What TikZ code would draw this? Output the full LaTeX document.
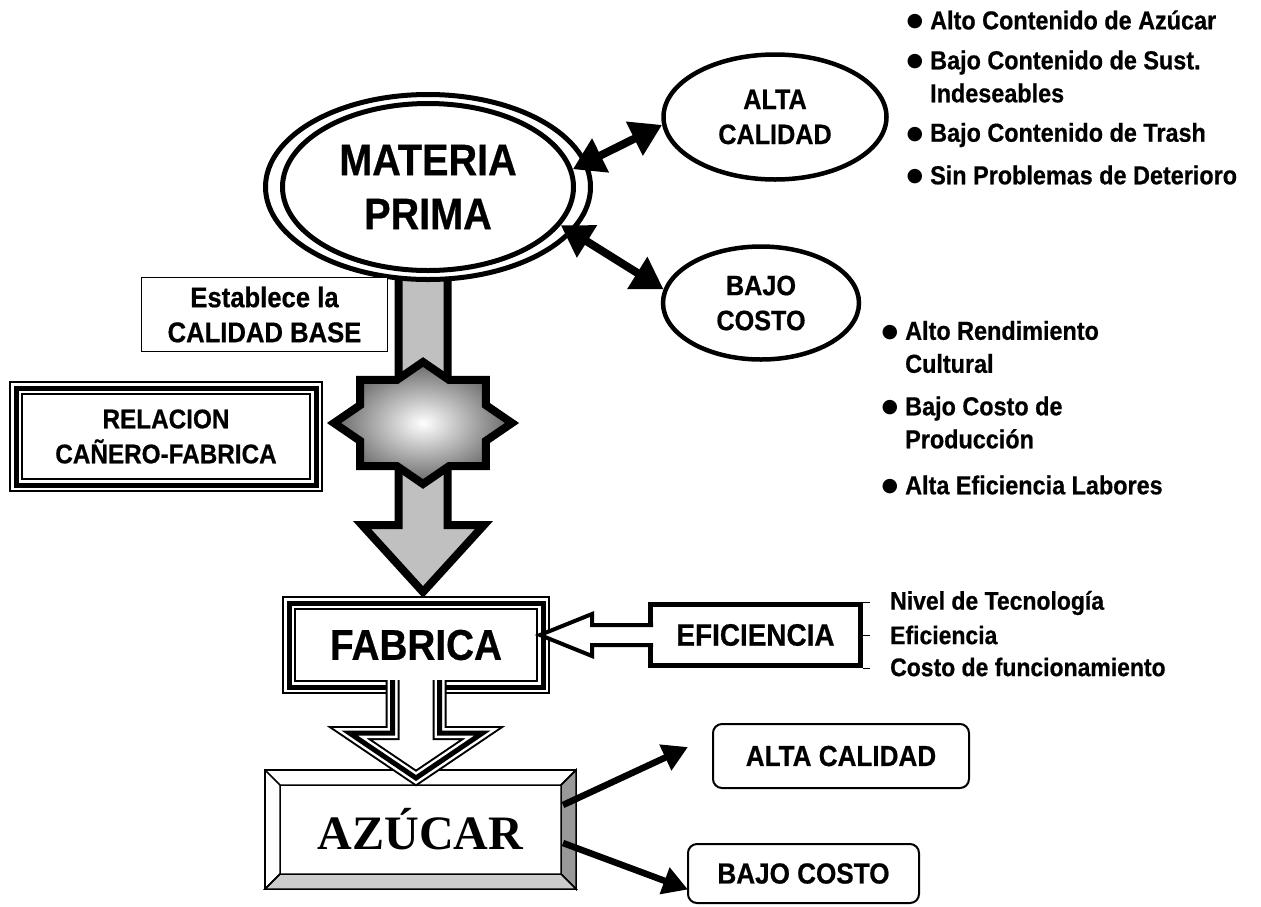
\documentclass[tikz,border=0pt]{standalone}
\usepackage{fontspec}
\setmainfont{Liberation Sans}[FakeStretch=0.9, BoldFeatures={FakeBold=0.6}]
\newfontfamily\azfont{Liberation Serif}
\newfontfamily\dotfont{DejaVu Sans}
\usetikzlibrary{shapes.geometric,arrows.meta,calc,backgrounds}
\definecolor{silver}{HTML}{C0C0C0}
\newcommand{\fsz}[2]{\fontsize{#1}{#2}\selectfont}
\newcommand{\bul}{\llap{\raisebox{2.5pt}{\dotfont\fsz{19}{19}●}\hspace{7pt}}}

\tikzset{
  bigoval/.style={ellipse, draw, line width=5pt, fill=white, inner sep=0pt},
  oval/.style={ellipse, draw, line width=4.5pt, fill=white, inner sep=0pt, align=center, font=\bfseries\fsz{28}{35}},
  tripline/.style={preaction={fill=white, draw=black, line width=14pt}, draw=white, line width=10pt, postaction={draw=black, line width=5pt}},
  tribox/.style={tripline, rectangle, outer sep=7pt, inner sep=0pt, align=center},
  effbox/.style={draw, line width=5pt, fill=white, minimum width=210pt, minimum height=61pt, font=\bfseries\fsz{31}{35}},
  rbox/.style={draw, line width=2pt, rounded corners=9pt, fill=white, font=\bfseries\fsz{29}{35}},
  bevel/.style={line width=1.5pt},
  note/.style={anchor=west, align=left, inner sep=0pt, font=\bfseries\fsz{26}{33}},
  sidenote/.style={anchor=west, inner sep=0pt, font=\bfseries\fsz{25.5}{30}},
  dblarrow/.style={{Triangle[length=31pt,width=36pt]}-{Triangle[length=31pt,width=36pt]}, line width=8pt},
  outarrow/.style={-{Triangle[length=25pt,width=27pt]}, line width=6.5pt},
  hollow/.style={draw, fill=white, line width=4pt},
  grayarrow/.style={draw, fill=silver, line width=8pt},
  starfill/.style={draw, line width=8pt, shading=radial, inner color=white, outer color=black!60}
}

\begin{document}
\begin{tikzpicture}[x=1pt, y=-1pt, font=\bfseries]
\useasboundingbox (0,0) rectangle (1261,906);

\node[bigoval, minimum width=325pt, minimum height=185pt] (mpo) at (428,187) {};
\node[bigoval, minimum width=291pt, minimum height=167pt, align=center, font=\bfseries\fsz{44}{54}] (mp) at (mpo) {MATERIA\\PRIMA};
\node[oval, minimum width=223pt, minimum height=125pt] (alta) at (775,117) {ALTA\\CALIDAD};
\node[oval, minimum width=196pt, minimum height=113pt] (bajo) at (761,303) {BAJO\\COSTO};

\node[draw, line width=1.5pt, fill=white, minimum width=246pt, minimum height=74pt, align=center, font=\bfseries\fsz{28.5}{35}] (base) at (264.5,314.5) {Establece la\\CALIDAD BASE};
\node[tribox, minimum width=300pt, minimum height=97pt, font=\bfseries\fsz{27}{35}] (rel) at (166,436.5) {RELACION\\CAÑERO-FABRICA};
\node[tribox, minimum width=254pt, minimum height=84pt, font=\bfseries\fsz{43}{50}] (fab) at (416,645) {FABRICA};
\node[effbox] (eff) at (755.5,635) {EFICIENCIA};

\node[draw, line width=1.5pt, fill=white, minimum width=311pt, minimum height=119pt, outer sep=0pt, font=\azfont\bfseries\fsz{48}{50}] (az) at (420.5,829.5) {AZÚCAR};
\node[rbox, minimum width=256pt, minimum height=64pt] (aca) at (841,756) {ALTA CALIDAD};
\node[rbox, minimum width=231pt, minimum height=59pt] (bco) at (803.5,873.5) {BAJO COSTO};

\coordinate (i1) at ($(az.north west)+(15,15)$);
\coordinate (i2) at ($(az.north east)+(-15,15)$);
\coordinate (i3) at ($(az.south east)+(-15,-15)$);
\coordinate (i4) at ($(az.south west)+(15,-15)$);
\filldraw[bevel, fill=black!40] (az.north east) -- (az.south east) -- (i3) -- (i2) -- cycle;
\filldraw[bevel, fill=black!20] (az.south west) -- (az.south east) -- (i3) -- (i4) -- cycle;
\draw[bevel] (az.north west) -- (i1) -- (i2) -- (az.north east) (i1) -- (i4) -- (az.south west);

\begin{scope}[on background layer]
  \coordinate (shafttop) at ($(mp.south)+(-5,-20)$);
  \coordinate (g0) at (shafttop |- fab.north);
  \coordinate (tipg) at ($(g0)+(0,-4)$);
  \draw[grayarrow] ($(shafttop)+(-24.5,0)$) -- ($(tipg)+(-24.5,-67)$) -- ($(tipg)+(-61,-67)$) -- (tipg) -- ($(tipg)+(61,-67)$) -- ($(tipg)+(24.5,-67)$) -- ($(shafttop)+(24.5,0)$) -- cycle;
  \coordinate (starc) at (423,423);
  \begin{scope}[shift={(starc)}]
    \draw[starfill] (89,0) \foreach \i [evaluate=\i as \r using {ifthenelse(mod(\i,2)==0,1,0.765)}] in {1,...,15} { -- ({\r*89*cos(\i*22.5)},{\r*61*sin(\i*22.5)}) } -- cycle;
  \end{scope}
\end{scope}

\draw[tripline] ([xshift=-23.5pt,yshift=14pt]fab.south) -- ++(0,53) -- ++(-43,0) -- ++(66.5,45) -- ++(66.5,-45) -- ++(-43,0) -- ++(0,-53);
\draw[hollow] ([xshift=5pt,yshift=10pt]eff.west) -- ++(-61,0) -- ++(0,-11) -- ++(-52,21) -- ++(52,21) -- ++(0,-11) -- ++(61,0);

\draw[dblarrow] (mp.7) -- (alta.184);
\draw[dblarrow] (mp.-16) -- (bajo.172);
\draw[outarrow] ([xshift=-13pt,yshift=24.5pt]az.east) -- ([xshift=-24pt,yshift=9pt]aca.west);
\draw[outarrow] ([xshift=-13pt,yshift=-13.5pt]az.east) -- ([xshift=1pt,yshift=-16pt]bco.west);

\draw[line width=1pt] (eff.north east) -- ++(7,0);
\draw[line width=1pt] (eff.east) -- ++(7,0);
\draw[line width=1pt] (eff.south east) -- ++(7,0);
\node[sidenote] (t1) at (890,603) {Nivel de Tecnología};
\node[sidenote] (t2) at (890,635) {Eficiencia};
\node[sidenote] (t3) at (890,667) {Costo de funcionamiento};

\node[note] (q1) at (930,20) {\bul Alto Contenido de Azúcar};
\node[note] (q2) at (930,76.5) {\bul Bajo Contenido de Sust.\\Indeseables};
\node[note] (q3) at (930,135) {\bul Bajo Contenido de Trash};
\node[note] (q4) at (930,175) {\bul Sin Problemas de Deterioro};

\node[note] (c1) at (905,347) {\bul Alto Rendimiento\\Cultural};
\node[note] (c2) at (905,422.5) {\bul Bajo Costo de\\Producción};
\node[note] (c3) at (905,485) {\bul Alta Eficiencia Labores};
\end{tikzpicture}
\end{document}
